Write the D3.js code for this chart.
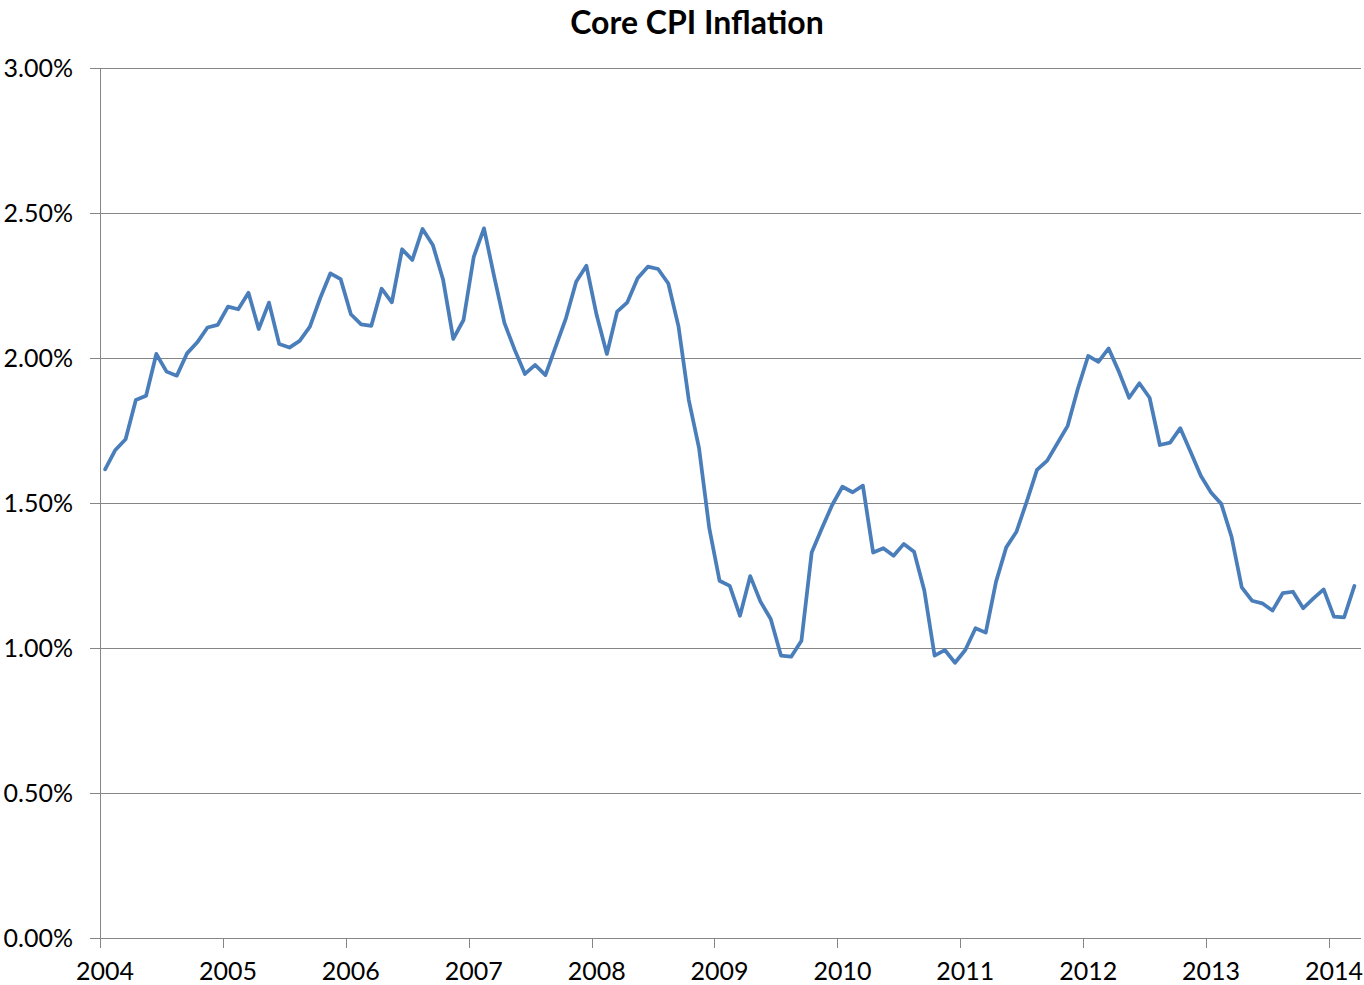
<!DOCTYPE html>
<html>
<head>
<meta charset="utf-8">
<script src="https://cdn.jsdelivr.net/npm/d3@7"></script>
<style>
  body { margin: 0; background: #fff; }
  text { font-family: Lato, "Open Sans", sans-serif; fill: #000; }
</style>
</head>
<body>
<div id="chart"></div>
<script>
// Core CPI inflation, monthly, Jan 2004 - Mar 2014 (percent)
var values = [
    1.616, 1.683, 1.720, 1.855, 1.870, 2.014, 1.953, 1.939, 2.016, 2.054, 2.105, 2.114,
    2.177, 2.168, 2.225, 2.100, 2.191, 2.048, 2.036, 2.059, 2.108, 2.206, 2.292, 2.272,
    2.151, 2.116, 2.111, 2.239, 2.192, 2.375, 2.338, 2.445, 2.390, 2.271, 2.066, 2.131,
    2.349, 2.447, 2.280, 2.120, 2.028, 1.945, 1.976, 1.941, 2.039, 2.137, 2.263, 2.318,
    2.148, 2.014, 2.160, 2.192, 2.275, 2.315, 2.307, 2.257, 2.108, 1.855, 1.689, 1.413,
    1.232, 1.214, 1.111, 1.248, 1.160, 1.100, 0.974, 0.970, 1.025, 1.329, 1.413, 1.493,
    1.556, 1.537, 1.560, 1.329, 1.344, 1.318, 1.359, 1.332, 1.198, 0.974, 0.993, 0.949,
    0.993, 1.068, 1.053, 1.228, 1.347, 1.401, 1.505, 1.614, 1.646, 1.706, 1.766, 1.895,
    2.007, 1.987, 2.033, 1.953, 1.863, 1.913, 1.863, 1.700, 1.708, 1.758, 1.677, 1.594,
    1.536, 1.497, 1.384, 1.209, 1.163, 1.154, 1.129, 1.189, 1.194, 1.137, 1.171, 1.202,
    1.108, 1.106, 1.214
];
var years = ["2004", "2005", "2006", "2007", "2008", "2009", "2010", "2011", "2012", "2013", "2014"];
var yTicks = [0, 0.5, 1, 1.5, 2, 2.5, 3];

var W = 1364, H = 985;
var plotLeft = 100, plotRight = 1361, plotTop = 68, plotBottom = 938;

var svg = d3.select("#chart").append("svg")
    .attr("width", W)
    .attr("height", H);

// one slot per month, points sit in the middle of their slot
var x = d3.scaleLinear()
    .domain([0, values.length])
    .range([plotLeft, plotLeft + values.length * 10.24]);

var y = d3.scaleLinear()
    .domain([0, 3])
    .range([plotBottom, plotTop]);

// horizontal gridlines
svg.append("g").selectAll("line")
    .data(yTicks)
    .enter().append("line")
    .attr("x1", plotLeft - 10)
    .attr("x2", plotRight)
    .attr("y1", function (d) { return Math.round(y(d)) + 0.5; })
    .attr("y2", function (d) { return Math.round(y(d)) + 0.5; })
    .attr("stroke", "#868686")
    .attr("stroke-width", 1);

// y labels
svg.append("g").selectAll("text")
    .data(yTicks)
    .enter().append("text")
    .attr("x", 73)
    .attr("y", function (d) { return y(d); })
    .attr("dy", "0.36em")
    .attr("text-anchor", "end")
    .style("font-size", "25px")
    .text(function (d) { return d3.format(".2f")(d) + "%"; });

// vertical axis line
svg.append("line")
    .attr("x1", plotLeft + 0.5).attr("x2", plotLeft + 0.5)
    .attr("y1", plotTop).attr("y2", plotBottom)
    .attr("stroke", "#868686");

// x ticks at each January boundary
svg.append("g").selectAll("line")
    .data(years)
    .enter().append("line")
    .attr("x1", function (d, i) { return Math.round(x(i * 12)) + 0.5; })
    .attr("x2", function (d, i) { return Math.round(x(i * 12)) + 0.5; })
    .attr("y1", plotBottom)
    .attr("y2", plotBottom + 10)
    .attr("stroke", "#868686");

svg.append("g").selectAll("text")
    .data(years)
    .enter().append("text")
    .attr("x", function (d, i) { return x(i * 12 + 0.5); })
    .attr("y", 980)
    .attr("text-anchor", "middle")
    .style("font-size", "25px")
    .text(function (d) { return d; });

// the series line
var line = d3.line()
    .x(function (d, i) { return x(i + 0.5); })
    .y(function (d) { return y(d); });

svg.append("path")
    .datum(values)
    .attr("d", line)
    .attr("fill", "none")
    .attr("stroke", "#4a7ebb")
    .attr("stroke-width", 3.75)
    .attr("stroke-linejoin", "round")
    .attr("stroke-linecap", "round");

// title
svg.append("text")
    .attr("x", 697)
    .attr("y", 34)
    .attr("text-anchor", "middle")
    .style("font-size", "32px")
    .style("font-weight", "bold")
    .text("Core CPI Inflation");
</script>
</body>
</html>
